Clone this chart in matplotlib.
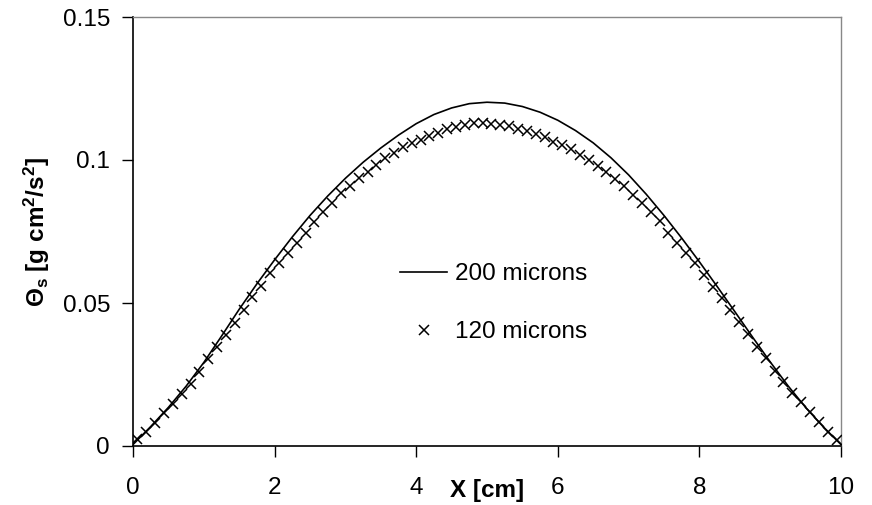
import matplotlib
matplotlib.use("Agg")
import matplotlib.pyplot as plt
import numpy as np

plt.rcParams['font.family'] = ['Liberation Sans', 'DejaVu Sans']
plt.rcParams['mathtext.fontset'] = 'custom'
plt.rcParams['mathtext.rm'] = 'Liberation Sans'
plt.rcParams['mathtext.bf'] = 'Liberation Sans:bold'
plt.rcParams['mathtext.it'] = 'Liberation Sans:italic'
plt.rcParams['mathtext.default'] = 'bf'

# ---- data ----
x_200 = [0.0, 0.25, 0.5, 0.75, 1.0, 1.25, 1.5, 1.75, 2.0, 2.25, 2.5, 2.75, 3.0,
         3.25, 3.5, 3.75, 4.0, 4.25, 4.5, 4.75, 5.0, 5.25, 5.5, 5.75, 6.0, 6.25,
         6.5, 6.75, 7.0, 7.25, 7.5, 7.75, 8.0, 8.25, 8.5, 8.75, 9.0, 9.25, 9.5,
         9.75, 10.0]
y_200 = [0.0005, 0.0068, 0.0135, 0.0209, 0.0292, 0.0384, 0.0478, 0.0567, 0.0651,
         0.0731, 0.0806, 0.0874, 0.0936, 0.0992, 0.1042, 0.1087, 0.1127, 0.1159,
         0.1182, 0.1197, 0.1202, 0.1199, 0.1187, 0.1167, 0.1139, 0.1103, 0.1060,
         0.1008, 0.0948, 0.0880, 0.0806, 0.0727, 0.0644, 0.0558, 0.0470, 0.0381,
         0.0294, 0.0211, 0.0135, 0.0067, 0.0005]

x_120 = [0.0625 + 0.125 * i for i in range(80)]
y_120 = [0.0023, 0.0050, 0.0082, 0.0114, 0.0147, 0.0182, 0.0217, 0.0260, 0.0303, 0.0347,
         0.0388, 0.0429, 0.0476, 0.0522, 0.0559, 0.0604, 0.0639, 0.0676, 0.0711, 0.0746,
         0.0784, 0.0819, 0.0851, 0.0883, 0.0909, 0.0936, 0.0959, 0.0983, 0.1006, 0.1023,
         0.1044, 0.1058, 0.1070, 0.1084, 0.1096, 0.1107, 0.1117, 0.1122, 0.1128, 0.1128,
         0.1127, 0.1124, 0.1118, 0.1108, 0.1100, 0.1091, 0.1079, 0.1064, 0.1052, 0.1037,
         0.1017, 0.1000, 0.0979, 0.0957, 0.0932, 0.0909, 0.0878, 0.0848, 0.0818, 0.0785,
         0.0744, 0.0709, 0.0674, 0.0639, 0.0598, 0.0557, 0.0516, 0.0476, 0.0435, 0.0392,
         0.0347, 0.0307, 0.0263, 0.0225, 0.0186, 0.0155, 0.0120, 0.0085, 0.0050, 0.0021]

xticks = [0, 2, 4, 6, 8, 10]
xtick_labels = ['0', '2', '4', '6', '8', '10']
yticks = [0, 0.05, 0.1, 0.15]
ytick_labels = ['0', '0.05', '0.1', '0.15']

labels = ['200 microns', '120 microns']

FS = 17.5
W, H = 872, 505
fig = plt.figure(figsize=(W / 100, H / 100), dpi=100)
ax = fig.add_axes([133 / W, 1 - 446 / H, 708 / W, 429 / H])

ax.plot(x_200, y_200, color='black', lw=1.2, label=labels[0], zorder=3)
ax.plot(x_120, y_120, linestyle='none', marker='x', ms=7, mew=1.1,
        color='black', label=labels[1], zorder=4)

ax.set_xlim(0, 10)
ax.set_ylim(0, 0.15)
ax.set_xticks(xticks)
ax.set_xticklabels(xtick_labels)
ax.set_yticks(yticks)
ax.set_yticklabels(ytick_labels)
ax.tick_params(axis='both', direction='out', length=8, width=1, colors='black',
               labelsize=FS)
ax.tick_params(axis='x', pad=14.5)
ax.tick_params(axis='y', pad=8.5)

for s in ['left', 'bottom']:
    ax.spines[s].set_color('black')
    ax.spines[s].set_linewidth(1.2)
for s in ['top', 'right']:
    ax.spines[s].set_color('#888888')
    ax.spines[s].set_linewidth(1.0)

ax.set_xlabel('X [cm]', fontsize=FS, fontweight='bold')
ax.xaxis.label.set_va('baseline')
ax.xaxis.set_label_coords(0.5, (446 - 497) / 429)

ax.set_ylabel(r'$\Theta_s$ [g cm$^2$/s$^2$]', fontsize=FS, fontweight='bold')
ax.yaxis.label.set_va('center')
ax.yaxis.label.set_ha('center')
ax.yaxis.set_label_coords((37 - 133) / 708, 0.5)

leg = ax.legend(loc='upper left', bbox_to_anchor=(400 / W, 1 - 263 / H),
                bbox_transform=fig.transFigure, frameon=False, fontsize=FS,
                handlelength=1.95, handletextpad=0.3, labelspacing=1.5,
                borderpad=0, borderaxespad=0, numpoints=1)

fig.savefig('out.png', dpi=100)
